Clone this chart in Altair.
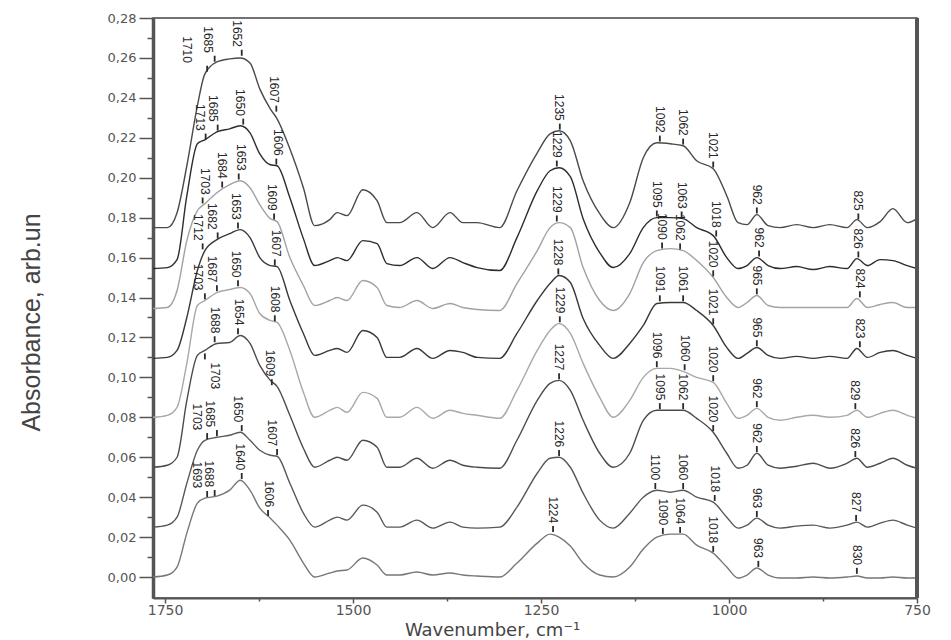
import altair as alt
import pandas as pd

# ---------------- data ----------------
wavenumber = [1766, 1747, 1734, 1721, 1707, 1697, 1681, 1664, 1650, 1637,
              1624, 1610, 1601, 1584, 1566, 1551, 1531, 1521, 1508, 1487,
              1468, 1455, 1438, 1415, 1394, 1371, 1354, 1335, 1305, 1282,
              1255, 1238, 1226, 1211, 1194, 1172, 1154, 1132, 1114, 1096,
              1078, 1061, 1043, 1021, 1003, 988, 976, 963, 948, 932,
              910, 888, 866, 843, 830, 816, 799, 782, 763, 750]

c1 = [0.175, 0.175, 0.1825, 0.206, 0.236, 0.252, 0.258, 0.2595, 0.26, 0.2575,
      0.2445, 0.2345, 0.2295, 0.2145, 0.195, 0.176, 0.179, 0.1825, 0.181, 0.194,
      0.1885, 0.1775, 0.1775, 0.1825, 0.175, 0.1825, 0.1775, 0.1775, 0.175, 0.1935,
      0.2125, 0.222, 0.2235, 0.2185, 0.1985, 0.182, 0.175, 0.1875, 0.21, 0.2175,
      0.217, 0.216, 0.2085, 0.2045, 0.191, 0.1775, 0.1765, 0.1815, 0.176, 0.175,
      0.1765, 0.175, 0.1765, 0.175, 0.179, 0.175, 0.178, 0.1845, 0.1775, 0.1795]
c2 = [0.1545, 0.155, 0.159, 0.191, 0.217, 0.219, 0.223, 0.2245, 0.226, 0.2225,
      0.212, 0.2065, 0.206, 0.19, 0.1695, 0.156, 0.1585, 0.16, 0.1585, 0.1685,
      0.167, 0.157, 0.156, 0.16, 0.1545, 0.16, 0.1575, 0.155, 0.1535, 0.17,
      0.1935, 0.2035, 0.205, 0.2005, 0.1795, 0.1625, 0.155, 0.162, 0.175, 0.18,
      0.18, 0.1795, 0.175, 0.171, 0.16, 0.1545, 0.156, 0.16, 0.156, 0.1545,
      0.1555, 0.154, 0.1555, 0.1545, 0.1595, 0.156, 0.159, 0.1585, 0.156, 0.1545]
c3 = [0.1345, 0.135, 0.1435, 0.1685, 0.1835, 0.187, 0.1925, 0.1965, 0.1985, 0.195,
      0.1865, 0.1795, 0.178, 0.16, 0.146, 0.136, 0.1385, 0.14, 0.1385, 0.1485,
      0.145, 0.136, 0.135, 0.1385, 0.1345, 0.137, 0.135, 0.134, 0.1335, 0.147,
      0.1635, 0.175, 0.1775, 0.175, 0.155, 0.1385, 0.1335, 0.142, 0.1575, 0.1635,
      0.1645, 0.1635, 0.1585, 0.15, 0.14, 0.135, 0.1375, 0.141, 0.136, 0.135,
      0.135, 0.135, 0.135, 0.135, 0.1395, 0.135, 0.1365, 0.1375, 0.135, 0.135]
c4 = [0.1095, 0.11, 0.1135, 0.13, 0.1535, 0.1635, 0.169, 0.172, 0.174, 0.17,
      0.16, 0.156, 0.1555, 0.1385, 0.122, 0.111, 0.1135, 0.1145, 0.1125, 0.1235,
      0.12, 0.11, 0.11, 0.1145, 0.1095, 0.1135, 0.1125, 0.11, 0.1095, 0.122,
      0.1385, 0.147, 0.151, 0.1475, 0.1295, 0.116, 0.1095, 0.117, 0.126, 0.137,
      0.1375, 0.1375, 0.1335, 0.126, 0.115, 0.1095, 0.112, 0.115, 0.111, 0.1095,
      0.1105, 0.1095, 0.1105, 0.1095, 0.1145, 0.11, 0.1125, 0.1135, 0.111, 0.1095]
c5 = [0.08, 0.081, 0.085, 0.107, 0.136, 0.1385, 0.1425, 0.144, 0.145, 0.142,
      0.132, 0.1285, 0.1275, 0.1135, 0.0925, 0.08, 0.0835, 0.085, 0.0825, 0.0925,
      0.0895, 0.08, 0.08, 0.085, 0.0795, 0.0835, 0.082, 0.081, 0.0795, 0.0935,
      0.1135, 0.1235, 0.127, 0.122, 0.107, 0.09, 0.08, 0.0885, 0.1, 0.1045,
      0.1045, 0.103, 0.1, 0.0975, 0.087, 0.0795, 0.081, 0.0845, 0.08, 0.0785,
      0.08, 0.081, 0.08, 0.081, 0.0835, 0.08, 0.082, 0.0835, 0.081, 0.0795]
c6 = [0.055, 0.056, 0.06, 0.0885, 0.111, 0.1135, 0.117, 0.1175, 0.121, 0.117,
      0.106, 0.0985, 0.0955, 0.081, 0.0645, 0.055, 0.0585, 0.06, 0.0585, 0.0685,
      0.065, 0.055, 0.055, 0.0595, 0.0545, 0.0585, 0.056, 0.055, 0.0545, 0.0685,
      0.0885, 0.097, 0.0985, 0.0935, 0.0785, 0.062, 0.055, 0.062, 0.0785, 0.0835,
      0.0835, 0.0835, 0.0795, 0.0725, 0.062, 0.0545, 0.056, 0.062, 0.056, 0.0545,
      0.0555, 0.057, 0.0545, 0.057, 0.0595, 0.055, 0.057, 0.0595, 0.056, 0.0545]
c7 = [0.025, 0.026, 0.03, 0.047, 0.0635, 0.0685, 0.07, 0.071, 0.0725, 0.0685,
      0.0635, 0.061, 0.0605, 0.047, 0.032, 0.025, 0.0285, 0.03, 0.0285, 0.036,
      0.0325, 0.025, 0.025, 0.0285, 0.0245, 0.0275, 0.025, 0.0245, 0.025, 0.035,
      0.052, 0.0595, 0.06, 0.055, 0.042, 0.0285, 0.0245, 0.032, 0.04, 0.0435,
      0.0425, 0.0435, 0.04, 0.0375, 0.03, 0.0245, 0.026, 0.0295, 0.026, 0.0245,
      0.0255, 0.026, 0.0245, 0.026, 0.0275, 0.025, 0.027, 0.0285, 0.026, 0.0245]
c8 = [0.0, 0.001, 0.005, 0.022, 0.037, 0.0395, 0.0405, 0.0435, 0.0485, 0.0435,
      0.0345, 0.0295, 0.026, 0.0185, 0.007, 0.0, 0.002, 0.003, 0.0035, 0.0095,
      0.006, 0.001, 0.001, 0.0025, 0.001, 0.002, 0.001, 0.0005, 0.0, 0.007,
      0.017, 0.0215, 0.02, 0.0155, 0.007, 0.001, 0.0, 0.005, 0.014, 0.02,
      0.0215, 0.0215, 0.016, 0.012, 0.005, -0.0005, 0.001, 0.0045, 0.001, -0.0005,
      -0.0005, 0.0, -0.0005, 0.0, 0.0005, -0.0005, -0.0005, 0.0, -0.0005, -0.0005]

curve_names = ["s1", "s2", "s3", "s4", "s5", "s6", "s7", "s8"]
curve_values = [c1, c2, c3, c4, c5, c6, c7, c8]
curve_colors = ["#4a4a4a", "#2c2c2c", "#a2a2a2", "#383838",
                "#a8a8a8", "#4c4c4c", "#585858", "#777777"]

# peak labels: text, tick position, text position, absorbance at the tick, below-curve flag
lab_curve = (["s1"] * 10 + ["s2"] * 10 + ["s3"] * 10 + ["s4"] * 10 +
             ["s5"] * 10 + ["s6"] * 10 + ["s7"] * 10 + ["s8"] * 10)
lab_text = ["1710", "1685", "1652", "1607", "1235", "1092", "1062", "1021", "962", "825",
            "1713", "1685", "1650", "1606", "1229", "1095", "1063", "1018", "962", "826",
            "1703", "1684", "1653", "1609", "1229", "1090", "1062", "1020", "965", "824",
            "1712", "1682", "1653", "1607", "1228", "1091", "1061", "1021", "965", "823",
            "1703", "1687", "1650", "1608", "1229", "1096", "1060", "1020", "962", "829",
            "1703", "1688", "1654", "1609", "1227", "1095", "1062", "1020", "962", "826",
            "1703", "1685", "1650", "1607", "1226", "1100", "1060", "1018", "963", "827",
            "1693", "1688", "1640", "1606", "1224", "1090", "1064", "1018", "963", "830"]
lab_tick_w = [1694, 1684, 1648, 1602, 1225, 1092, 1061, 1021, 963, 828,
              1696, 1680, 1646, 1602, 1229, 1096, 1063, 1017, 960, 828,
              1700, 1674, 1652, 1605, 1229, 1089, 1065, 1021, 963, 826,
              1700, 1680, 1653, 1604, 1227, 1092, 1061, 1021, 963, 826,
              1697, 1681, 1653, 1604, 1225, 1096, 1059, 1021, 963, 832,
              1697, 1684, 1653, 1608, 1226, 1092, 1061, 1021, 963, 832,
              1694, 1681, 1648, 1601, 1226, 1098, 1061, 1019, 963, 831,
              1694, 1684, 1648, 1613, 1234, 1088, 1065, 1021, 961, 830]
lab_text_w = [1721, 1693, 1654, 1605, 1226, 1092, 1061, 1021, 963, 828,
              1704, 1686, 1650, 1600, 1229, 1096, 1063, 1017, 960, 828,
              1697, 1674, 1649, 1608, 1229, 1089, 1065, 1021, 963, 826,
              1706, 1688, 1656, 1602, 1227, 1092, 1061, 1021, 963, 826,
              1706, 1688, 1656, 1604, 1225, 1096, 1059, 1021, 963, 832,
              1684, 1684, 1652, 1610, 1226, 1092, 1061, 1021, 963, 832,
              1707, 1690, 1653, 1608, 1226, 1098, 1061, 1019, 963, 831,
              1707, 1691, 1650, 1612, 1234, 1088, 1065, 1021, 961, 830]
lab_y = [0.2525, 0.2575, 0.2605, 0.2325, 0.2235, 0.2175, 0.216, 0.2045, 0.1815, 0.1785,
         0.2185, 0.223, 0.226, 0.206, 0.205, 0.18, 0.1795, 0.17, 0.16, 0.1595,
         0.1865, 0.1945, 0.1985, 0.1785, 0.1775, 0.164, 0.1635, 0.15, 0.141, 0.1395,
         0.1635, 0.169, 0.174, 0.1555, 0.151, 0.1375, 0.1375, 0.126, 0.115, 0.1145,
         0.1385, 0.1425, 0.145, 0.1275, 0.127, 0.1045, 0.103, 0.0975, 0.0845, 0.0835,
         0.1135, 0.117, 0.121, 0.0955, 0.0985, 0.0835, 0.0835, 0.0725, 0.062, 0.0595,
         0.0685, 0.07, 0.0725, 0.0605, 0.06, 0.0435, 0.0435, 0.0375, 0.0295, 0.0275,
         0.0395, 0.04, 0.0485, 0.03, 0.022, 0.021, 0.0215, 0.012, 0.0045, 0.001]
lab_below = [False] * 50 + [True] + [False] * 29

x_tick_values = [1750, 1625, 1500, 1375, 1250, 1125, 1000, 875, 750]
y_tick_values = [0.00, 0.01, 0.02, 0.03, 0.04, 0.05, 0.06, 0.07, 0.08, 0.09,
                 0.10, 0.11, 0.12, 0.13, 0.14, 0.15, 0.16, 0.17, 0.18, 0.19,
                 0.20, 0.21, 0.22, 0.23, 0.24, 0.25, 0.26, 0.27, 0.28]

# ---------------- tables ----------------
rows = []
for name, vals in zip(curve_names, curve_values):
    for w, a in zip(wavenumber, vals):
        rows.append({"curve": name, "w": w, "a": a})
spectra = pd.DataFrame(rows)

labels = pd.DataFrame({
    "curve": lab_curve, "label": lab_text, "tick_w": lab_tick_w,
    "text_w": lab_text_w, "a": lab_y, "below": lab_below,
})

# ---------------- scales / axes ----------------
x_scale = alt.Scale(domain=[750, 1766], reverse=True, nice=False, zero=False)
y_scale = alt.Scale(domain=[-0.0105, 0.28], nice=False, zero=False)

x_axis = alt.Axis(
    values=x_tick_values,
    labelExpr="datum.value % 250 == 0 ? format(datum.value, 'd') : ''",
    title="Wavenumber, cm⁻¹", grid=False,
    domainColor="#555555", domainWidth=2,
    tickColor="#555555", tickWidth=1.5,
    tickSize={"condition": {"test": "datum.value % 250 == 0", "value": 5}, "value": 3},
    labelFont="DejaVu Sans", labelFontSize=14, labelColor="#555555", labelPadding=0,
    labelFlush=False, labelOverlap=False,
    titleFont="DejaVu Sans", titleFontSize=18, titleFontWeight="normal",
    titleColor="#444444", titleX=339, titleY=32, titleBaseline="middle", titleAlign="center",
)
y_axis = alt.Axis(
    values=y_tick_values,
    labelExpr="round(datum.value*100) % 2 == 0 ? replace(format(datum.value, '.2f'), '.', ',') : ''",
    title="Absorbance, arb.un", grid=False,
    domainColor="#555555", domainWidth=3.5,
    tickColor="#555555", tickWidth=1.5,
    tickSize={"condition": {"test": "round(datum.value*100) % 2 == 0", "value": 14}, "value": 6},
    labelFont="DejaVu Sans", labelFontSize=13, labelColor="#555555", labelPadding=3,
    labelFlush=False, labelOverlap=False,
    titleFont="Liberation Sans Narrow, Liberation Sans, sans-serif", titleFontSize=25,
    titleFontWeight="normal", titleColor="#444444",
    titleX=-122, titleY=304, titleBaseline="middle", titleAlign="center",
)

label_font = "Liberation Sans Narrow, Liberation Sans, sans-serif"

lines = alt.Chart(spectra).mark_line(interpolate="monotone", strokeWidth=1.4, clip=True).encode(
    x=alt.X("w:Q", scale=x_scale, axis=x_axis),
    y=alt.Y("a:Q", scale=y_scale, axis=y_axis),
    color=alt.Color("curve:N", scale=alt.Scale(domain=curve_names, range=curve_colors), legend=None),
    detail="curve:N",
)

ticks = alt.Chart(labels).transform_calculate(
    y0="datum.below ? datum.a - 0.0015 : datum.a + 0.0006",
    y1="datum.below ? datum.a - 0.0045 : datum.a + 0.0036",
).mark_rule(strokeWidth=1.8, color="#2a2a2a").encode(
    x=alt.X("tick_w:Q", scale=x_scale, axis=x_axis),
    y=alt.Y("y0:Q", scale=y_scale, axis=y_axis),
    y2="y1:Q",
)

text_above = alt.Chart(labels).transform_filter("!datum.below").mark_text(
    angle=90, align="right", baseline="middle", dx=-10,
    font=label_font, fontSize=12, color="#262626",
).encode(
    x=alt.X("text_w:Q", scale=x_scale, axis=x_axis),
    y=alt.Y("a:Q", scale=y_scale, axis=y_axis),
    text="label:N",
)

text_below = alt.Chart(labels).transform_filter("datum.below").mark_text(
    angle=90, align="left", baseline="middle", dx=12,
    font=label_font, fontSize=12, color="#262626",
).encode(
    x=alt.X("text_w:Q", scale=x_scale, axis=x_axis),
    y=alt.Y("a:Q", scale=y_scale, axis=y_axis),
    text="label:N",
)

right_edge = alt.Chart(pd.DataFrame({"w": [750]})).mark_rule(strokeWidth=4, color="#555555").encode(
    x=alt.X("w:Q", scale=x_scale, axis=x_axis),
)

chart = alt.layer(lines, ticks, text_above, text_below, right_edge).properties(
    width=764, height=580, autosize="none",
    padding={"left": 153, "top": 18, "right": 34, "bottom": 42},
    background="white",
).configure_view(stroke="#444444", strokeWidth=1.5)

chart.save("out.html", embed_options={"renderer": "svg", "actions": False})
